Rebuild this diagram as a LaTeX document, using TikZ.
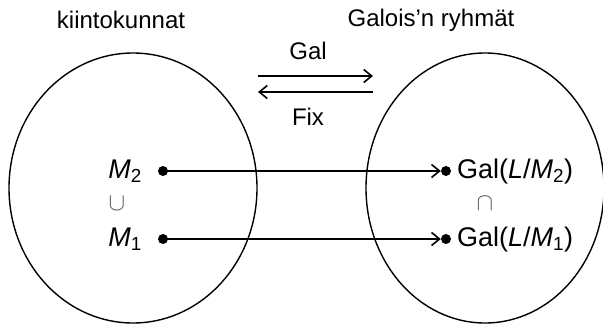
\documentclass[tikz,border=0pt]{standalone}
\usepackage{fontspec}
\setmainfont{Liberation Sans}
\usetikzlibrary{arrows.meta}
\begin{document}
\begin{tikzpicture}[x=1pt,y=-1pt,
  every node/.style={inner sep=0pt},
  title/.style={font=\fontsize{24}{28}\selectfont},
  lbl/.style={font=\fontsize{27}{32}\selectfont},
  set/.style={draw, line width=1.4pt},
  map/.style={line width=1.6pt, -{Straight Barb[length=8pt,width=13pt,line width=1.6pt]}},
  pt/.style={circle, fill, minimum size=10pt, inner sep=0pt},
  rel/.style={font=\fontsize{25}{28}\selectfont, text=black!65}]
\useasboundingbox (0,0) rectangle (603,325);

% the two sets
\draw[set] (133,188) ellipse [x radius=124, y radius=135];
\draw[set] (485,188) ellipse [x radius=119, y radius=135];

% headings
\node[title] (lt) at (121,20) {kiintokunnat};
\node[title] (rt) at (431,20) {Galois’n ryhmät};

% the correspondence Gal / Fix
\node[title] (gal) at (308,51) {Gal};
\node[title] (fix) at (308,117) {Fix};
\coordinate (ga) at (258,76);
\coordinate (gb) at (373,76);
\coordinate (fa) at (373,92);
\coordinate (fb) at (258,92);
\draw[map] (ga) -- (gb);
\draw[map] (fa) -- (fb);

% elements
\node[pt] (m2d) at (163,171) {};
\node[pt] (m1d) at (163,239) {};
\node[pt] (g2d) at (446,171) {};
\node[pt] (g1d) at (446,239) {};

\node[lbl, anchor=base east] (m2) at (142,178) {\textit{M}\textsubscript{2}};
\node[lbl, anchor=base east] (m1) at (142,246) {\textit{M}\textsubscript{1}};
\node[rel] (sub) at (117,204) {$\cup$};

\node[lbl, anchor=base west] (g2) at (457,178) {Gal(\textit{L}/\textit{M}\textsubscript{2})};
\node[lbl, anchor=base west] (g1) at (457,246) {Gal(\textit{L}/\textit{M}\textsubscript{1})};
\node[rel] (sup) at (485,204) {$\cap$};

\draw[map] (m2d.center) -- (g2d.west);
\draw[map] (m1d.center) -- (g1d.west);
\end{tikzpicture}
\end{document}
